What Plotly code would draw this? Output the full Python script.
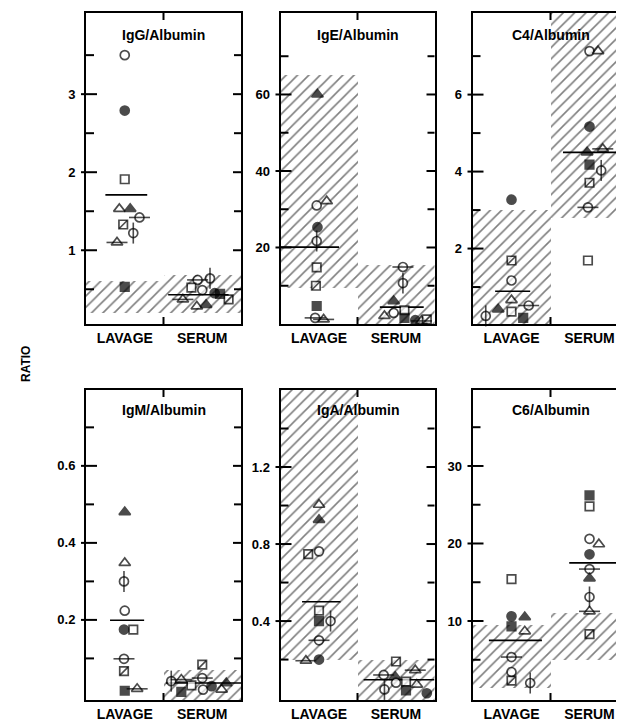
import plotly.graph_objects as go

CATEGORIES = ["LAVAGE", "SERUM"]

# ---------------- IgG/Albumin ----------------
IGG_LAVAGE = [3.50, 2.79, 1.91, 1.53, 1.53, 1.42, 1.33, 1.22, 1.10, 0.53]
IGG_LAVAGE_SYM = ["o", "O", "s", "t", "T", "theta", "sx", "phi", "tl", "S"]
IGG_SERUM = [0.62, 0.64, 0.52, 0.49, 0.45, 0.44, 0.37, 0.28, 0.30, 0.37]
IGG_SERUM_SYM = ["theta", "phi", "s", "o", "O", "S", "tl", "t", "T", "sx"]
IGG_MEAN = [1.71, 0.43]
IGG_NORMAL_LOW = [0.2, 0.2]
IGG_NORMAL_HIGH = [0.6, 0.68]
IGG_TICKS = [1, 2, 3]
IGG_TICKTEXT = ["1", "2", "3"]
IGG_MINOR = [0.5, 1.5, 2.5, 3.5]

# ---------------- IgE/Albumin ----------------
IGE_LAVAGE = [60, 31.0, 32.1, 25.3, 21.7, 14.8, 10.0, 4.7, 1.6, 1.2]
IGE_LAVAGE_SYM = ["T", "o", "t", "O", "phi", "s", "sx", "S", "theta", "tl"]
IGE_SERUM = [14.9, 10.7, 6.0, 3.6, 2.9, 2.1, 1.6, 1.0, 0.8, 1.2]
IGE_SERUM_SYM = ["theta", "phi", "T", "s", "o", "t", "S", "O", "tl", "sx"]
IGE_MEAN = [20.1, 4.4]
IGE_NORMAL_LOW = [9.5, 0]
IGE_NORMAL_HIGH = [65, 15.5]
IGE_TICKS = [20, 40, 60]
IGE_TICKTEXT = ["20", "40", "60"]
IGE_MINOR = [10, 30, 50, 70]

# ---------------- C4/Albumin ----------------
C4_LAVAGE = [3.27, 1.69, 1.17, 0.66, 0.52, 0.36, 0.42, 0.20, 0.25]
C4_LAVAGE_SYM = ["O", "sx", "o", "t", "theta", "s", "T", "S", "phi"]
C4_SERUM = [7.13, 7.13, 5.17, 4.50, 4.59, 4.18, 4.03, 3.71, 3.07, 1.69]
C4_SERUM_SYM = ["o", "t", "O", "T", "tl", "S", "phi", "sx", "theta", "s"]
C4_MEAN = [0.89, 4.50]
C4_NORMAL_LOW = [0, 2.8]
C4_NORMAL_HIGH = [3.0, 8.5]
C4_TICKS = [2, 4, 6]
C4_TICKTEXT = ["2", "4", "6"]
C4_MINOR = [1, 3, 5, 7]

# ---------------- IgM/Albumin ----------------
IGM_LAVAGE = [0.48, 0.348, 0.30, 0.224, 0.175, 0.175, 0.099, 0.067, 0.016, 0.021]
IGM_LAVAGE_SYM = ["T", "t", "phi", "o", "O", "s", "theta", "sx", "S", "tl"]
IGM_SERUM = [0.084, 0.049, 0.045, 0.041, 0.030, 0.019, 0.013, 0.028, 0.036, 0.019]
IGM_SERUM_SYM = ["sx", "theta", "tl", "phi", "s", "o", "S", "O", "T", "t"]
IGM_MEAN = [0.199, 0.036]
IGM_NORMAL_LOW = [None, -0.01]
IGM_NORMAL_HIGH = [None, 0.071]
IGM_TICKS = [0.2, 0.4, 0.6]
IGM_TICKTEXT = ["0.2", "0.4", "0.6"]
IGM_MINOR = [0.1, 0.3, 0.5, 0.7]

# ---------------- IgA/Albumin ----------------
IGA_LAVAGE = [1.004, 0.926, 0.762, 0.748, 0.454, 0.40, 0.40, 0.30, 0.194, 0.20]
IGA_LAVAGE_SYM = ["t", "T", "o", "sx", "s", "S", "phi", "theta", "tl", "O"]
IGA_SERUM = [0.19, 0.12, 0.11, 0.145, 0.045, 0.08, 0.085, 0.04, 0.07, 0.025]
IGA_SERUM_SYM = ["sx", "theta", "T", "tl", "phi", "o", "s", "S", "t", "O"]
IGA_MEAN = [0.50, 0.095]
IGA_NORMAL_LOW = [0.2, -0.02]
IGA_NORMAL_HIGH = [1.7, 0.2]
IGA_TICKS = [0.4, 0.8, 1.2]
IGA_TICKTEXT = ["0.4", "0.8", "1.2"]
IGA_MINOR = [0.2, 0.6, 1.0, 1.4]

# ---------------- C6/Albumin ----------------
C6_LAVAGE = [15.4, 10.6, 10.5, 9.3, 8.67, 5.35, 3.42, 2.3, 2.0]
C6_LAVAGE_SYM = ["s", "O", "T", "S", "t", "theta", "o", "sx", "phi"]
C6_SERUM = [26.2, 24.8, 20.6, 19.9, 18.6, 16.7, 15.5, 13.1, 11.25, 8.3]
C6_SERUM_SYM = ["S", "s", "o", "t", "O", "theta", "T", "phi", "tl", "sx"]
C6_MEAN = [7.5, 17.5]
C6_NORMAL_LOW = [1.3, 5.0]
C6_NORMAL_HIGH = [9.5, 11.0]
C6_TICKS = [10, 20, 30]
C6_TICKTEXT = ["10", "20", "30"]
C6_MINOR = [5, 15, 25, 35]

# ---------------- layout / styling (positions, not data) ----------------
W, H = 624, 722
FONT = "Liberation Sans, Arial, Helvetica, sans-serif"

# horizontal jitter of each point within its category
IGG_LAVAGE_DX = [0, 0, 0, -0.07, 0.07, 0.19, -0.02, 0.11, -0.10, 0]
IGG_SERUM_DX = [-0.06, 0.10, -0.14, 0, 0.16, 0.23, -0.25, -0.07, 0.05, 0.34]
IGE_LAVAGE_DX = [-0.02, -0.03, 0.10, -0.02, -0.03, -0.03, -0.04, -0.03, -0.05, 0.06]
IGE_SERUM_DX = [0.09, 0.09, -0.03, 0.11, -0.03, -0.15, 0.11, 0.25, 0.33, 0.40]
C4_LAVAGE_DX = [0, 0, 0, 0, 0.22, 0, -0.17, 0.15, -0.33]
C4_SERUM_DX = [0, 0.11, 0, -0.03, 0.17, 0, 0.15, 0, -0.02, -0.02]
IGM_LAVAGE_DX = [0, 0, -0.01, 0, -0.01, 0.11, -0.01, -0.01, 0, 0.16]
IGM_SERUM_DX = [0, 0, -0.27, -0.40, -0.14, 0.01, -0.27, 0.12, 0.31, 0.25]
IGA_LAVAGE_DX = [0, 0, 0, -0.14, 0, 0, 0.15, 0, -0.17, 0]
IGA_SERUM_DX = [0, -0.16, -0.01, 0.25, -0.15, 0, 0.13, 0.13, 0.27, 0.40]
C6_LAVAGE_DX = [0, 0, 0.17, 0, 0.17, 0, 0, 0, 0.24]
C6_SERUM_DX = [0, 0, 0, 0.12, 0, 0, 0, 0, 0, 0]


def px_dom(a, b, total):
    return [a / total, b / total]


TOP = [1 - 316 / H, 1 - 5 / H]
BOT = [1 - 692 / H, 1 - 382 / H]
COLS = [px_dom(78, 233, W), px_dom(272.5, 426.5, W), px_dom(464.5, 620.5, W)]

PANELS = [
    dict(title="IgG/Albumin", lav=IGG_LAVAGE, lsym=IGG_LAVAGE_SYM, ldx=IGG_LAVAGE_DX,
         ser=IGG_SERUM, ssym=IGG_SERUM_SYM, sdx=IGG_SERUM_DX, mean=IGG_MEAN,
         lo=IGG_NORMAL_LOW, hi=IGG_NORMAL_HIGH, ticks=IGG_TICKS, ticktext=IGG_TICKTEXT,
         minor=IGG_MINOR, rng=[0.055, 4.04], span=[(-0.25, 0.29), (-0.44, 0.34)],
         xd=COLS[0], yd=TOP),
    dict(title="IgE/Albumin", lav=IGE_LAVAGE, lsym=IGE_LAVAGE_SYM, ldx=IGE_LAVAGE_DX,
         ser=IGE_SERUM, ssym=IGE_SERUM_SYM, sdx=IGE_SERUM_DX, mean=IGE_MEAN,
         lo=IGE_NORMAL_LOW, hi=IGE_NORMAL_HIGH, ticks=IGE_TICKS, ticktext=IGE_TICKTEXT,
         minor=IGE_MINOR, rng=[0, 81.3], span=[(-0.5, 0.26), (-0.21, 0.36)],
         xd=COLS[1], yd=TOP),
    dict(title="C4/Albumin", lav=C4_LAVAGE, lsym=C4_LAVAGE_SYM, ldx=C4_LAVAGE_DX,
         ser=C4_SERUM, ssym=C4_SERUM_SYM, sdx=C4_SERUM_DX, mean=C4_MEAN,
         lo=C4_NORMAL_LOW, hi=C4_NORMAL_HIGH, ticks=C4_TICKS, ticktext=C4_TICKTEXT,
         minor=C4_MINOR, rng=[0.04, 8.12], span=[(-0.21, 0.24), (-0.34, 0.39)],
         xd=COLS[2], yd=TOP),
    dict(title="IgM/Albumin", lav=IGM_LAVAGE, lsym=IGM_LAVAGE_SYM, ldx=IGM_LAVAGE_DX,
         ser=IGM_SERUM, ssym=IGM_SERUM_SYM, sdx=IGM_SERUM_DX, mean=IGM_MEAN,
         lo=IGM_NORMAL_LOW, hi=IGM_NORMAL_HIGH, ticks=IGM_TICKS, ticktext=IGM_TICKTEXT,
         minor=IGM_MINOR, rng=[-0.008, 0.797], span=[(-0.19, 0.25), (-0.47, 0.5)],
         xd=COLS[0], yd=BOT),
    dict(title="IgA/Albumin", lav=IGA_LAVAGE, lsym=IGA_LAVAGE_SYM, ldx=IGA_LAVAGE_DX,
         ser=IGA_SERUM, ssym=IGA_SERUM_SYM, sdx=IGA_SERUM_DX, mean=IGA_MEAN,
         lo=IGA_NORMAL_LOW, hi=IGA_NORMAL_HIGH, ticks=IGA_TICKS, ticktext=IGA_TICKTEXT,
         minor=IGA_MINOR, rng=[-0.01, 1.6], span=[(-0.22, 0.28), (-0.42, 0.5)],
         xd=COLS[1], yd=BOT),
    dict(title="C6/Albumin", lav=C6_LAVAGE, lsym=C6_LAVAGE_SYM, ldx=C6_LAVAGE_DX,
         ser=C6_SERUM, ssym=C6_SERUM_SYM, sdx=C6_SERUM_DX, mean=C6_MEAN,
         lo=C6_NORMAL_LOW, hi=C6_NORMAL_HIGH, ticks=C6_TICKS, ticktext=C6_TICKTEXT,
         minor=C6_MINOR, rng=[-0.19, 39.8], span=[(-0.29, 0.39), (-0.26, 0.35)],
         xd=COLS[2], yd=BOT),
]

BASE = {
    "o": ("circle", "white"),
    "O": ("circle", "black"),
    "s": ("square", "white"),
    "S": ("square", "black"),
    "t": ("triangle-up", "white"),
    "T": ("triangle-up", "black"),
    "sx": ("square", "white"),
    "phi": ("circle", "white"),
    "theta": ("circle", "white"),
    "tl": ("triangle-up", "white"),
}
BASE_SIZE = {"circle": 9, "square": 8.5, "triangle-up": 10}
OVERLAY = {"sx": ("line-ne", 8), "phi": ("line-ns", 15), "theta": ("line-ew", 15),
           "tl": ("line-ew", 15)}

fig = go.Figure()
shapes = []
layout = dict(width=W, height=H, margin=dict(l=0, r=0, t=0, b=0),
              paper_bgcolor="white", plot_bgcolor="white", showlegend=False,
              bargap=0, barmode="overlay", annotations=[])

for i, p in enumerate(PANELS):
    n = i + 1
    xr = "x" if n == 1 else f"x{n}"
    yr = "y" if n == 1 else f"y{n}"
    pw = (p["xd"][1] - p["xd"][0]) * W
    ph = (p["yd"][1] - p["yd"][0]) * H

    # normal-range hatched boxes
    bx, bbase, bh = [], [], []
    for c in range(2):
        if p["lo"][c] is not None:
            bx.append(c)
            bbase.append(p["lo"][c])
            bh.append(p["hi"][c] - p["lo"][c])
    fig.add_trace(go.Bar(
        x=bx, y=bh, base=bbase, width=1.0, xaxis=xr, yaxis=yr, hoverinfo="skip",
        marker=dict(color="white", line=dict(width=0),
                    pattern=dict(shape="/", fgcolor="black", bgcolor="white",
                                 size=8, solidity=0.2)),
    ))

    # mean lines
    for c in range(2):
        a, b = p["span"][c]
        fig.add_trace(go.Scatter(
            x=[c + a, c + b], y=[p["mean"][c], p["mean"][c]], mode="lines",
            line=dict(color="black", width=1.6), xaxis=xr, yaxis=yr, hoverinfo="skip"))

    # points
    xs, ys, syms, cols, sizes = [], [], [], [], []
    oxs, oys, osyms, osizes = [], [], [], []
    for c, (vals, sy, dx) in enumerate([(p["lav"], p["lsym"], p["ldx"]),
                                        (p["ser"], p["ssym"], p["sdx"])]):
        for v, s, d in zip(vals, sy, dx):
            shape, fill = BASE[s]
            xs.append(c + d)
            ys.append(v)
            syms.append(shape)
            cols.append(fill)
            sizes.append(BASE_SIZE[shape])
            if s in OVERLAY:
                osym, osz = OVERLAY[s]
                oxs.append(c + d)
                oys.append(v)
                osyms.append(osym)
                osizes.append(osz)
    fig.add_trace(go.Scatter(
        x=xs, y=ys, mode="markers", xaxis=xr, yaxis=yr, cliponaxis=False,
        marker=dict(symbol=syms, color=cols, size=sizes,
                    line=dict(color="black", width=1.7))))
    if oxs:
        fig.add_trace(go.Scatter(
            x=oxs, y=oys, mode="markers", xaxis=xr, yaxis=yr, cliponaxis=False,
            marker=dict(symbol=osyms, size=osizes, color="black",
                        line=dict(color="black", width=1.6))))

    tickfont = dict(family=FONT, size=13, color="black", weight="bold")
    layout[f"xaxis{n}"] = dict(
        domain=p["xd"], anchor=yr, range=[-0.5, 1.5], tickmode="array",
        tickvals=[0, 1], ticktext=CATEGORIES, ticks="", showline=True,
        linecolor="black", linewidth=2, mirror=True, showgrid=False,
        zeroline=False, fixedrange=True,
        tickfont=dict(family=FONT, size=14, color="black", weight="bold"))
    layout[f"yaxis{n}"] = dict(
        domain=p["yd"], anchor=xr, range=p["rng"], tickmode="array",
        tickvals=p["ticks"], ticktext=p["ticktext"], ticks="", showline=True,
        linecolor="black", linewidth=2, mirror=True, showgrid=False,
        zeroline=False, tickfont=tickfont, ticklabelstandoff=6, fixedrange=True)

    # tick marks drawn in axis-domain units (cross the frame like the original)
    line = dict(color="black", width=2)
    xdom = f"{xr} domain"
    ydom = f"{yr} domain"
    for v in p["ticks"]:
        shapes.append(dict(type="line", xref=xdom, yref=yr, x0=-5 / pw, x1=11 / pw,
                           y0=v, y1=v, line=line))
        shapes.append(dict(type="line", xref=xdom, yref=yr, x0=1 - 8 / pw, x1=1 + 1 / pw,
                           y0=v, y1=v, line=line))
    for v in p["minor"]:
        shapes.append(dict(type="line", xref=xdom, yref=yr, x0=0, x1=8 / pw,
                           y0=v, y1=v, line=line))
        shapes.append(dict(type="line", xref=xdom, yref=yr, x0=1 - 7 / pw, x1=1,
                           y0=v, y1=v, line=line))
    # category boundary ticks on top and bottom
    shapes.append(dict(type="line", xref=xr, yref=ydom, x0=0.5, x1=0.5,
                       y0=0, y1=7 / ph, line=line))
    shapes.append(dict(type="line", xref=xr, yref=ydom, x0=0.5, x1=0.5,
                       y0=1 - 7 / ph, y1=1 + 2 / ph, line=line))

    # panel title
    cx = (p["xd"][0] + p["xd"][1]) / 2
    ty = (1 - 27 / H) if p["yd"] is TOP else (1 - 402 / H)
    layout["annotations"].append(dict(
        text=p["title"], x=cx, y=ty, xref="paper", yref="paper",
        xanchor="center", yanchor="middle", showarrow=False,
        font=dict(family=FONT, size=14, color="black", weight="bold")))

layout["annotations"].append(dict(
    text="RATIO", x=18 / W, y=1 - 356 / H, xref="paper", yref="paper",
    xanchor="center", yanchor="middle", showarrow=False, textangle=-90,
    font=dict(family=FONT, size=12, color="black", weight="bold")))
layout["shapes"] = shapes

fig.update_layout(**layout)
fig.write_html("out.html")
